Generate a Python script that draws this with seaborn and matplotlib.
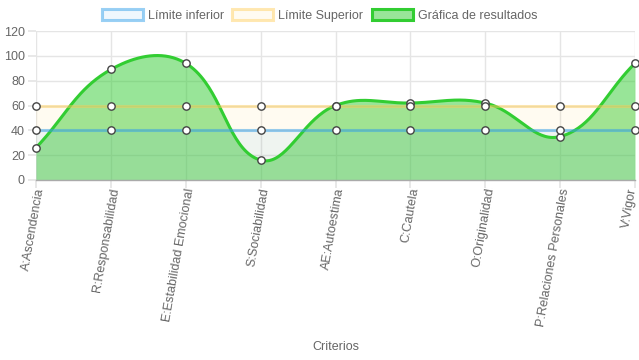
import numpy as np
import pandas as pd
import matplotlib
matplotlib.use("Agg")
import matplotlib.pyplot as plt
from matplotlib.patches import Patch
from matplotlib.transforms import ScaledTranslation, blended_transform_factory
import seaborn as sns

categories = ["A:Ascendencia", "R:Responsabilidad", "E:Estabilidad Emocional",
              "S:Sociabilidad", "AE:Autoestima", "C:Cautela", "O:Originalidad",
              "P:Relaciones Personales", "V:Vigor"]
lower_limit = [40, 40, 40, 40, 40, 40, 40, 40, 40]
upper_limit = [60, 60, 60, 60, 60, 60, 60, 60, 60]
results = [26, 89, 94, 16, 60, 62, 62, 35, 94]
y_ticks = [0, 20, 40, 60, 80, 100, 120]

sns.set_theme(style="white")
plt.rcParams['font.family'] = ['Liberation Sans', 'DejaVu Sans']

W, H = 639, 360
fig = plt.figure(figsize=(W / 100, H / 100), dpi=100)
left, right, top, bottom = 36, 635, 31, 180
ax = fig.add_axes([left / W, 1 - bottom / H, (right - left) / W, (bottom - top) / H])

x = np.arange(len(categories))
df = pd.DataFrame({"x": x, "lower": lower_limit, "upper": upper_limit, "res": results})

# Chart.js-like spline (tension 0.4) computed in pixel space
sx = (right - left) / (len(categories) - 1)
sy = (bottom - top) / 120.0
P = np.column_stack([x * sx, np.array(results, float) * sy])
n = len(P)
cp_prev = np.zeros_like(P)
cp_next = np.zeros_like(P)
t = 0.4
for i in range(n):
    prev = P[max(i - 1, 0)]
    cur = P[i]
    nxt = P[min(i + 1, n - 1)]
    d01 = np.hypot(*(cur - prev))
    d12 = np.hypot(*(nxt - cur))
    s = d01 + d12
    s01 = d01 / s if s else 0
    s12 = d12 / s if s else 0
    cp_prev[i] = cur - t * s01 * (nxt - prev)
    cp_next[i] = cur + t * s12 * (nxt - prev)
cp_prev[:, 1] = np.clip(cp_prev[:, 1], 0, 120 * sy)
cp_next[:, 1] = np.clip(cp_next[:, 1], 0, 120 * sy)
curve = []
u = np.linspace(0, 1, 40)[:, None]
for i in range(n - 1):
    p0, p1, p2, p3 = P[i], cp_next[i], cp_prev[i + 1], P[i + 1]
    seg = (1 - u) ** 3 * p0 + 3 * (1 - u) ** 2 * u * p1 + 3 * (1 - u) * u ** 2 * p2 + u ** 3 * p3
    curve.append(seg if i == 0 else seg[1:])
curve = np.vstack(curve)
cx, cy = curve[:, 0] / sx, curve[:, 1] / sy

green = (50 / 255, 205 / 255, 50 / 255)
blue = (54 / 255, 162 / 255, 235 / 255)
yellow = (255 / 255, 205 / 255, 86 / 255)

# fills
ax.fill_between(cx, 0, cy, color=green, alpha=0.5, lw=0, zorder=2)
ax.fill_between(df["x"], 0, df["upper"], color=yellow, alpha=0.08, lw=0, zorder=2)
ax.fill_between(df["x"], 0, df["lower"], color=blue, alpha=0.08, lw=0, zorder=2)

# lines
ax.plot(cx, cy, color=green, lw=2.2, zorder=3, solid_capstyle="round")
sns.lineplot(data=df, x="x", y="upper", ax=ax, color=yellow, alpha=0.45, lw=2.2, zorder=3)
sns.lineplot(data=df, x="x", y="lower", ax=ax, color=blue, alpha=0.5, lw=2.2, zorder=3)

# points
for col in ["res", "upper", "lower"]:
    sns.scatterplot(data=df, x="x", y=col, ax=ax, s=28, color="white",
                    edgecolor="#444444", linewidth=1.0, zorder=5, clip_on=False)

ax.set_xlim(0, len(categories) - 1)
ax.set_ylim(0, 120)
ax.set_yticks(y_ticks)
ax.set_yticklabels([str(v) for v in y_ticks])
ax.set_xticks(x)
ax.set_xticklabels([""] * len(categories))
trans = blended_transform_factory(ax.transData, ax.transAxes)
for i, lab in enumerate(categories):
    dx = 5.0 if i < len(categories) - 1 else -1.5
    off = ScaledTranslation(dx / 100, -8.0 / 100, fig.dpi_scale_trans)
    ax.text(x[i], 0, lab, transform=trans + off, rotation=80, ha="right", va="center",
            rotation_mode="anchor", fontsize=9, color="#666666", clip_on=False)
ax.grid(True, color="#e5e5e5", lw=1.0, zorder=0)
ax.set_axisbelow(True)
for s in ["top", "right", "left"]:
    ax.spines[s].set_visible(False)
ax.spines["bottom"].set_color("#aaaaaa")
ax.spines["bottom"].set_linewidth(1.0)
ax.tick_params(axis="both", length=6, color="#e5e5e5", labelcolor="#666666",
               labelsize=9, left=True, bottom=True)
ax.tick_params(axis="y", pad=2)
ax.set_xlabel("Criterios", color="#666666", fontsize=9)
ax.xaxis.set_label_coords(0.5, -(341 - 180) / (bottom - top), transform=ax.transAxes)
ax.set_ylabel("")

handles = [
    Patch(facecolor=(*blue, 0.08), edgecolor=(*blue, 0.5), lw=2.2),
    Patch(facecolor=(*yellow, 0.08), edgecolor=(*yellow, 0.45), lw=2.2),
    Patch(facecolor=(*green, 0.5), edgecolor=green, lw=2.2),
]
labels = ["Límite inferior", "Límite Superior", "Gráfica de resultados"]
leg = fig.legend(handles, labels, loc="center", bbox_to_anchor=(0.5, 1 - 15.5 / H),
                 ncol=3, frameon=False, fontsize=9, handlelength=3.3, handleheight=1.0,
                 handletextpad=0.4, columnspacing=0.65)
for txt in leg.get_texts():
    txt.set_color("#666666")

fig.savefig("out.png", dpi=100)
